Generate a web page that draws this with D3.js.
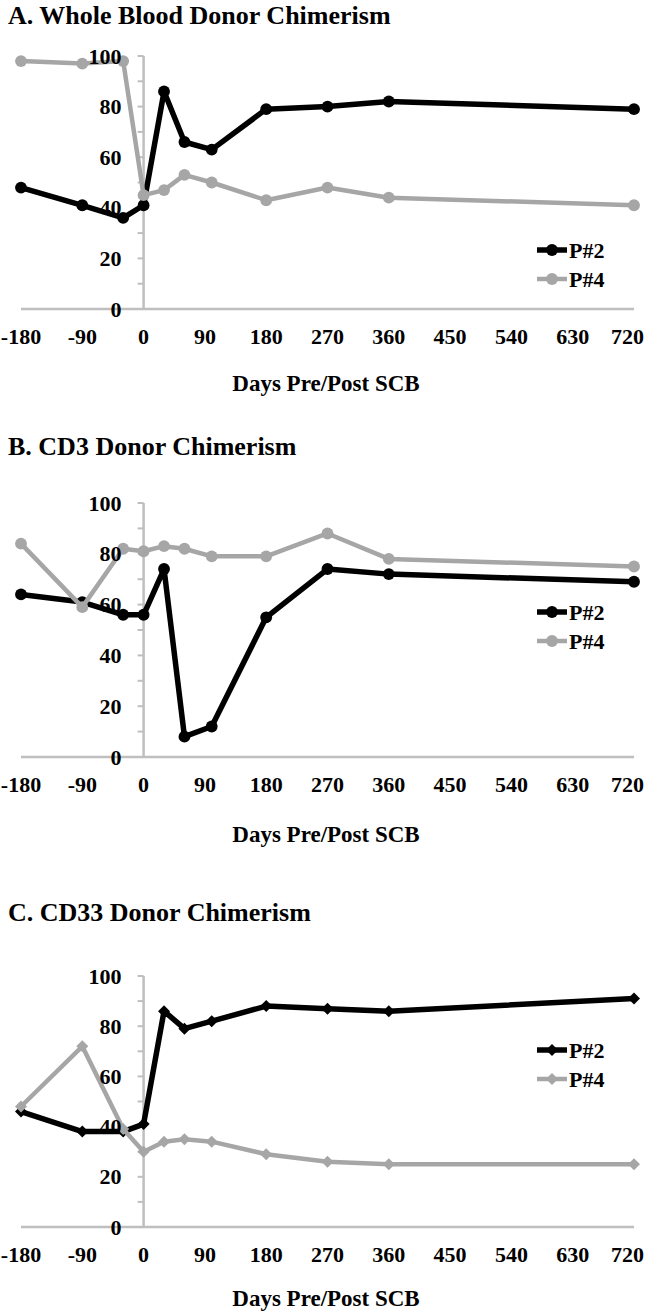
<!DOCTYPE html>
<html>
<head>
<meta charset="utf-8">
<script src="https://cdn.jsdelivr.net/npm/d3@7"></script>
<style>
  html, body { margin: 0; padding: 0; background: #fff; }
  svg { display: block; }
  text { font-family: "Liberation Serif", "Times New Roman", serif; font-weight: bold; fill: #000; }
</style>
</head>
<body>
<script>
// ---------------- data ----------------
const days = [-180, -90, -30, 0, 30, 60, 100, 180, 270, 360, 720];
const xTicks = [-180, -90, 0, 90, 180, 270, 360, 450, 540, 630, 720];
const yTicks = [0, 20, 40, 60, 80, 100];
const yMinorTicks = [0, 10, 20, 30, 40, 50, 60, 70, 80, 90, 100];
const seriesNames = ["P#2", "P#4"];
const panelTitles = ["A. Whole Blood Donor Chimerism", "B. CD3 Donor Chimerism", "C. CD33 Donor Chimerism"];
const xAxisTitle = "Days Pre/Post SCB";

const wholeBloodP2 = [48, 41, 36, 41, 86, 66, 63, 79, 80, 82, 79];
const wholeBloodP4 = [98, 97, 98, 45, 47, 53, 50, 43, 48, 44, 41];
const cd3P2 = [64, 61, 56, 56, 74, 8, 12, 55, 74, 72, 69];
const cd3P4 = [84, 59, 82, 81, 83, 82, 79, 79, 88, 78, 75];
const cd33P2 = [46, 38, 38, 41, 86, 79, 82, 88, 87, 86, 91];
const cd33P4 = [48, 72, 39, 30, 34, 35, 34, 29, 26, 25, 25];

// ---------------- layout ----------------
const W = 646, H = 1313;
const colors = ["#000000", "#a6a6a6"];
const axisColor = "#bfbfbf";
const panels = [
  { title: panelTitles[0], p2: wholeBloodP2, p4: wholeBloodP4, top: 56, bottom: 309, titleY: 24, legendY: 250, axTitleOff: 74, marker: "circle" },
  { title: panelTitles[1], p2: cd3P2, p4: cd3P4, top: 503, bottom: 757, titleY: 455, legendY: 612, axTitleOff: 77, marker: "circle" },
  { title: panelTitles[2], p2: cd33P2, p4: cd33P4, top: 976, bottom: 1227, titleY: 921, legendY: 1050, axTitleOff: 71, marker: "diamond" }
];

const svg = d3.select("body").append("svg").attr("width", W).attr("height", H);
svg.append("rect").attr("width", W).attr("height", H).attr("fill", "#fff");

const x = d3.scaleLinear().domain([-180, 720]).range([21, 634]);
const tickFont = "22px";

panels.forEach(p => {
  const g = svg.append("g");
  const y = d3.scaleLinear().domain([0, 100]).range([p.bottom, p.top]);

  // title
  g.append("text").attr("x", 8).attr("y", p.titleY)
    .style("font-size", "26px").text(p.title);

  // x axis line
  g.append("line")
    .attr("x1", x(-180)).attr("x2", x(720))
    .attr("y1", y(0)).attr("y2", y(0))
    .attr("stroke", axisColor).attr("stroke-width", 2.5);

  // y axis line at x=0
  g.append("line")
    .attr("x1", x(0)).attr("x2", x(0))
    .attr("y1", y(0)).attr("y2", y(100))
    .attr("stroke", axisColor).attr("stroke-width", 2.5);

  // y minor ticks
  g.selectAll(".ytick").data(yMinorTicks).enter().append("line")
    .attr("x1", x(0) - 6).attr("x2", x(0))
    .attr("y1", d => y(d)).attr("y2", d => y(d))
    .attr("stroke", axisColor).attr("stroke-width", 2);

  // series
  const series = [p.p2, p.p4];
  const line = d3.line().x((d, i) => x(days[i])).y(d => y(d));
  const sym = p.marker === "diamond"
    ? d3.symbol().type(d3.symbolSquare).size(72)
    : d3.symbol().type(d3.symbolCircle).size(110);

  series.forEach((vals, si) => {
    g.append("path").datum(vals)
      .attr("d", line)
      .attr("fill", "none")
      .attr("stroke", colors[si])
      .attr("stroke-width", si === 0 ? 5.5 : 4.5)
      .attr("stroke-linejoin", "round");
    g.selectAll(".m" + si).data(vals).enter().append("path")
      .attr("d", sym)
      .attr("transform", (d, i) => `translate(${x(days[i])},${y(d)})` + (p.marker === "diamond" ? " rotate(45)" : ""))
      .attr("fill", colors[si]);
  });

  // y labels
  g.selectAll(".ylab").data(yTicks).enter().append("text")
    .attr("x", x(0) - 22).attr("y", d => y(d))
    .attr("text-anchor", "end").attr("dominant-baseline", "central")
    .style("font-size", tickFont).text(d => d);

  // x labels (last label kept inside the frame)
  g.selectAll(".xlab").data(xTicks).enter().append("text")
    .attr("x", d => d === 720 ? W - 2 : x(d)).attr("y", y(0) + 27)
    .attr("text-anchor", d => d === 720 ? "end" : "middle").attr("dominant-baseline", "central")
    .style("font-size", tickFont).text(d => d);

  // x axis title
  g.append("text").attr("x", 326).attr("y", y(0) + p.axTitleOff)
    .attr("text-anchor", "middle").attr("dominant-baseline", "central")
    .style("font-size", "23px").text(xAxisTitle);

  // legend
  seriesNames.forEach((name, si) => {
    const ly = p.legendY + si * 29;
    g.append("line").attr("x1", 537).attr("x2", 567).attr("y1", ly).attr("y2", ly)
      .attr("stroke", colors[si]).attr("stroke-width", si === 0 ? 5.5 : 4.5);
    g.append("path").attr("d", sym)
      .attr("transform", `translate(552,${ly})` + (p.marker === "diamond" ? " rotate(45)" : ""))
      .attr("fill", colors[si]);
    g.append("text").attr("x", 569).attr("y", ly)
      .attr("dominant-baseline", "central")
      .style("font-size", tickFont).text(name);
  });
});
</script>
</body>
</html>
